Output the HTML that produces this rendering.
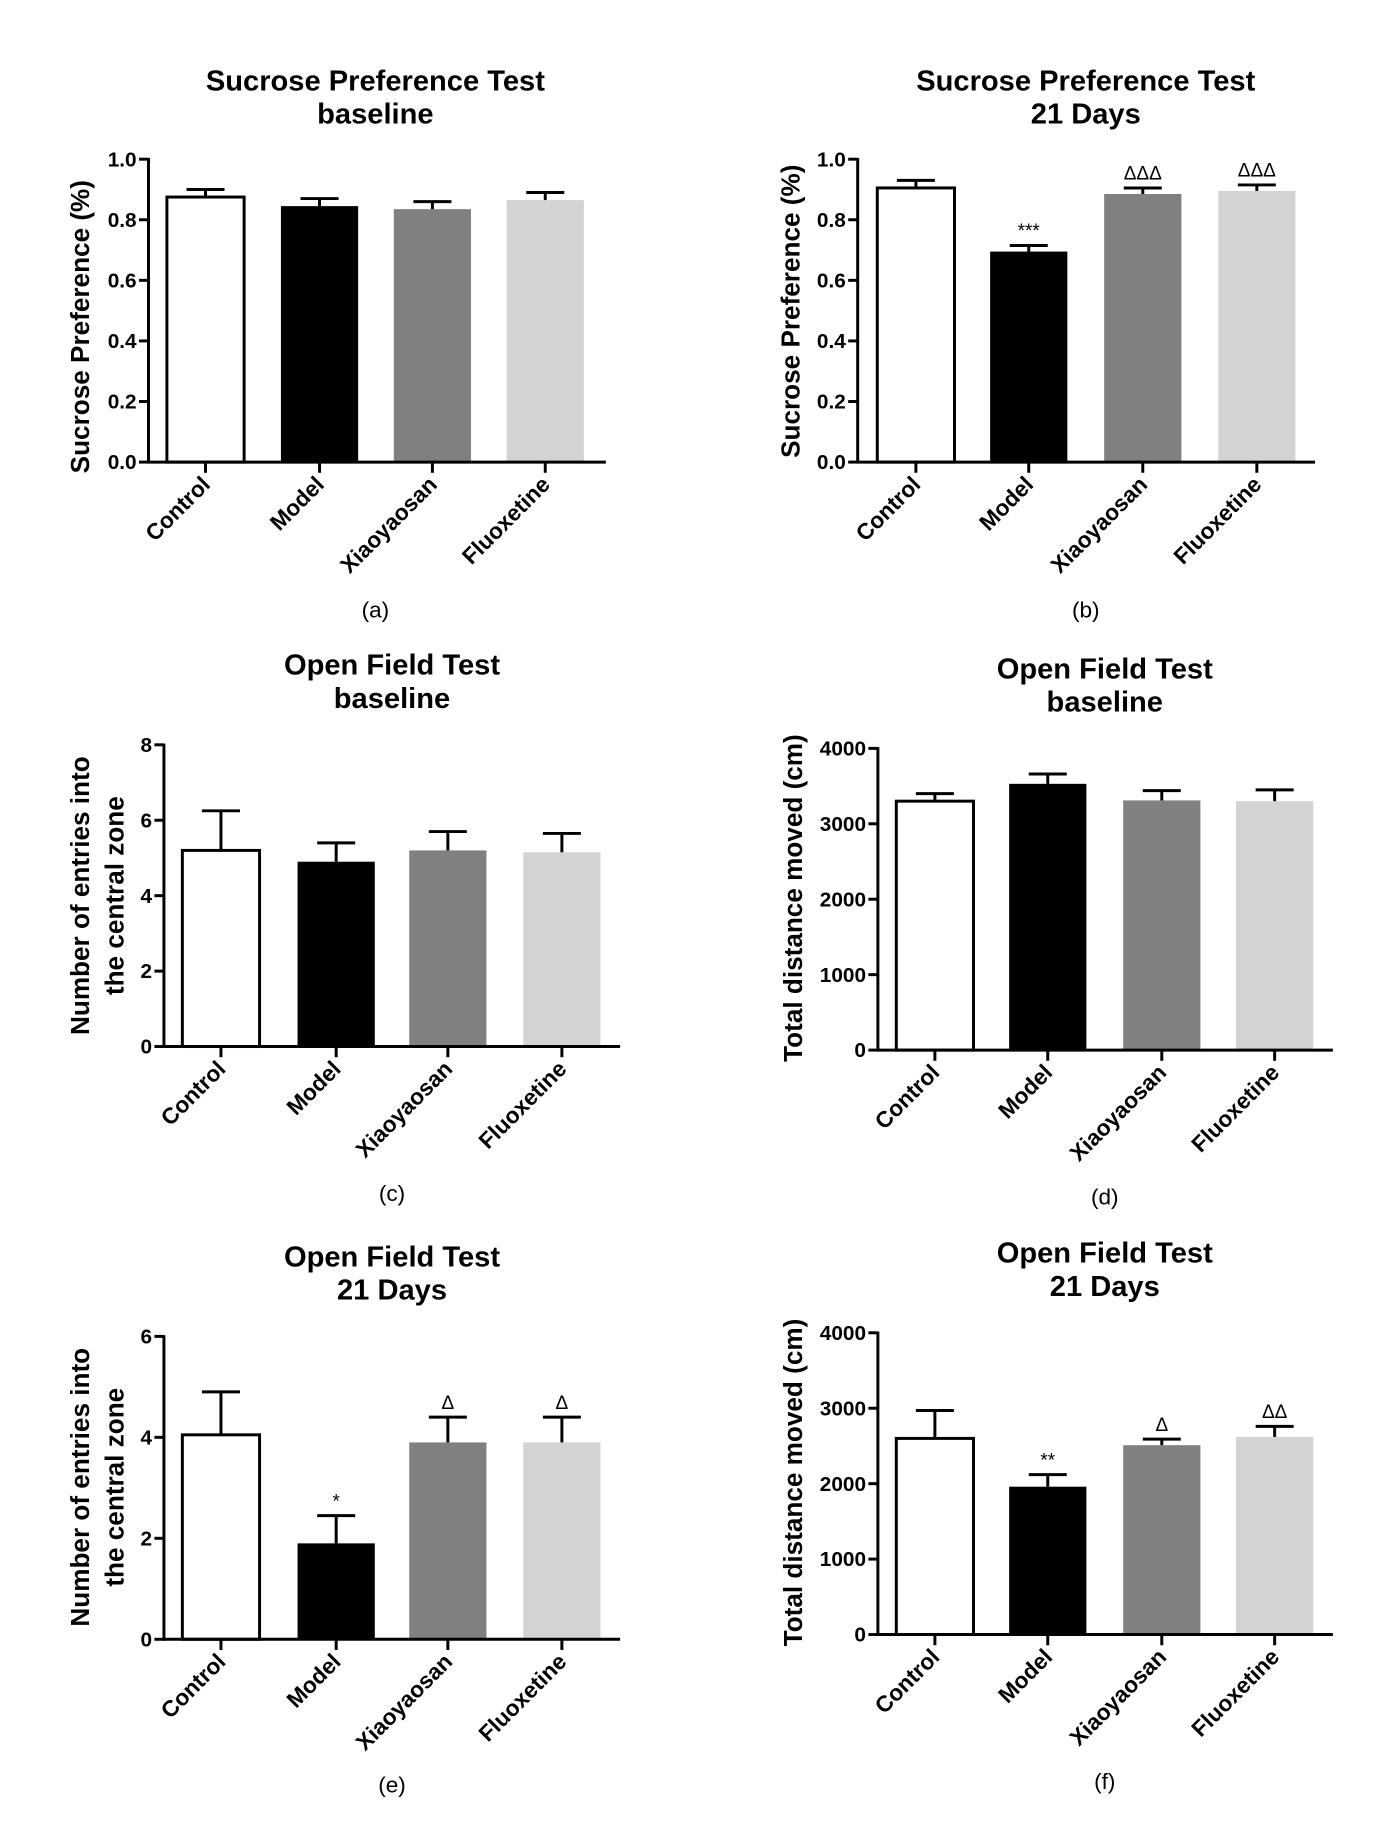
<!DOCTYPE html>
<html><head><meta charset="utf-8"><style>
html,body{margin:0;padding:0;background:#fff;}
svg{display:block;}
text{font-family:"Liberation Sans",Arial,sans-serif;fill:#000;}
</style></head><body>
<svg id="fig" width="1378" height="1848" viewBox="0 0 1160 1555.7" preserveAspectRatio="none" xmlns="http://www.w3.org/2000/svg"></svg>
<script>
const categories = ["Control","Model","Xiaoyaosan","Fluoxetine"];
const valuesA = [0.875,0.845,0.835,0.865];
const errA = [0.025,0.025,0.025,0.025];
const marksA = ["","","",""];
const valuesB = [0.905,0.695,0.885,0.895];
const errB = [0.025,0.02,0.02,0.02];
const marksB = ["","***","ΔΔΔ","ΔΔΔ"];
const valuesC = [5.2,4.9,5.2,5.15];
const errC = [1.05,0.5,0.5,0.5];
const marksC = ["","","",""];
const valuesD = [3300,3530,3310,3300];
const errD = [100,130,130,150];
const marksD = ["","","",""];
const valuesE = [4.05,1.9,3.9,3.9];
const errE = [0.85,0.55,0.5,0.5];
const marksE = ["","*","Δ","Δ"];
const valuesF = [2600,1960,2510,2620];
const errF = [370,160,80,140];
const marksF = ["","**","Δ","ΔΔ"];
const ticksSP = ["0.0","0.2","0.4","0.6","0.8","1.0"];
const ticksC = ["0","2","4","6","8"];
const ticksD = ["0","1000","2000","3000","4000"];
const ticksE = ["0","2","4","6"];

const NS="http://www.w3.org/2000/svg";
const svg=document.getElementById('fig');
const fills=["#ffffff","#000000","#808080","#d3d3d3"];
function mk(tag,attrs,parent){const e=document.createElementNS(NS,tag);for(const k in attrs)e.setAttribute(k,attrs[k]);(parent||svg).appendChild(e);return e;}

function panel(cfg){
  const g=mk('g',{});
  
  
  const {ax,top,bot,xEnd,centers,ymax,ticks,values,errs,marks}=cfg;
  const y=v=>bot-(v/ymax)*(bot-top);
  cfg.title.forEach((t,i)=>{const e=mk('text',{x:cfg.tx,y:cfg.ty+i*28,'text-anchor':'middle','font-size':24.5,'font-weight':'bold'},g);e.textContent=t;
    
    });
  cfg.ylab.forEach((t,i)=>{const lx=cfg.ylx+i*29;const e=mk('text',{x:lx,y:cfg.yly,'text-anchor':'middle','font-size':22,'font-weight':'bold',transform:`rotate(-90 ${lx} ${cfg.yly})`},g);e.textContent=t;
    
    });
  values.forEach((v,i)=>{
    const cx=centers[i],w=65,yt=y(v),ye=y(v+errs[i]);
    const b=mk('rect',{x:cx-w/2,y:yt,width:w,height:bot-yt,fill:fills[i],stroke:i==0?'#000':'none','stroke-width':2.5},g);
    
    
    mk('line',{x1:cx,y1:yt,x2:cx,y2:ye,stroke:'#000','stroke-width':2.5},g);
    mk('line',{x1:cx-16,y1:ye,x2:cx+16,y2:ye,stroke:'#000','stroke-width':2.5},g);
    if(marks[i]){const m=mk('text',{x:cx,y:ye-7,'text-anchor':'middle','font-size':16},g);m.textContent=marks[i];
      
      }
    mk('line',{x1:cx,y1:bot,x2:cx,y2:bot+9,stroke:'#000','stroke-width':2.5},g);
    const lx=cx+5,ly=bot+20;
    const c=mk('text',{x:lx,y:ly,'text-anchor':'end','font-size':19,'font-weight':'bold',transform:`rotate(-45 ${lx} ${ly})`},g);c.textContent=categories[i];
    
    
  });
  mk('line',{x1:ax,y1:top-1,x2:ax,y2:bot+1.2,stroke:'#000','stroke-width':2.5},g);
  mk('line',{x1:ax-1,y1:bot,x2:xEnd,y2:bot,stroke:'#000','stroke-width':2.5},g);
  ticks.forEach(t=>{const v=parseFloat(t),yy=y(v);
    mk('line',{x1:ax-8,y1:yy,x2:ax,y2:yy,stroke:'#000','stroke-width':2.5},g);
    const e=mk('text',{x:ax-10,y:yy+6,'text-anchor':'end','font-size':17.5,'font-weight':'bold'},g);e.textContent=t;
    
    });
  const cp=mk('text',{x:cfg.tx,y:cfg.capy,'text-anchor':'middle','font-size':19},g);cp.textContent=cfg.cap;
  
  
}
const spLab=["Sucrose Preference (%)"];
const ofLab=["Number of entries into","the central zone"];
const tdLab=["Total distance moved  (cm)"];
panel({name:'panel-a',ax:125,top:134,bot:389,xEnd:510,centers:[173,269,364,459],ymax:1,ticks:ticksSP,values:valuesA,errs:errA,marks:marksA,title:["Sucrose Preference Test","baseline"],tx:316,ty:76,ylab:spLab,ylx:75,yly:275,cap:"(a)",capy:520});
panel({name:'panel-b',ax:722,top:134,bot:389,xEnd:1107,centers:[771,866,962,1058],ymax:1,ticks:ticksSP,values:valuesB,errs:errB,marks:marksB,title:["Sucrose Preference Test","21 Days"],tx:914,ty:76,ylab:spLab,ylx:673,yly:262,cap:"(b)",capy:520});
panel({name:'panel-c',ax:138,top:627,bot:881,xEnd:522,centers:[186,283,377,473],ymax:8,ticks:ticksC,values:valuesC,errs:errC,marks:marksC,title:["Open Field Test","baseline"],tx:330,ty:568,ylab:ofLab,ylx:75,yly:754,cap:"(c)",capy:1011});
panel({name:'panel-d',ax:739,top:630,bot:884,xEnd:1122,centers:[787,882,978,1073],ymax:4000,ticks:ticksD,values:valuesD,errs:errD,marks:marksD,title:["Open Field Test","baseline"],tx:930,ty:571,ylab:tdLab,ylx:675,yly:756,cap:"(d)",capy:1014});
panel({name:'panel-e',ax:138,top:1125,bot:1380,xEnd:522,centers:[186,283,377,473],ymax:6,ticks:ticksE,values:valuesE,errs:errE,marks:marksE,title:["Open Field Test","21 Days"],tx:330,ty:1066,ylab:ofLab,ylx:75,yly:1252,cap:"(e)",capy:1509});
panel({name:'panel-f',ax:739,top:1122,bot:1376,xEnd:1122,centers:[787,882,978,1073],ymax:4000,ticks:ticksD,values:valuesF,errs:errF,marks:marksF,title:["Open Field Test","21 Days"],tx:930,ty:1063,ylab:tdLab,ylx:675,yly:1248,cap:"(f)",capy:1506});
</script>
</body></html>
